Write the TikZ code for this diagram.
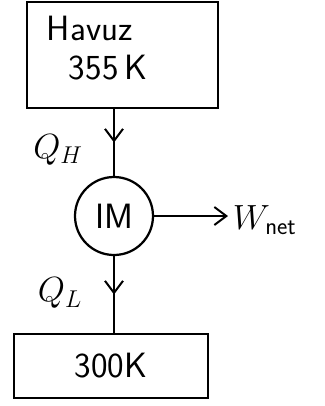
\documentclass[tikz,border=0pt]{standalone}
\usepackage{amsmath}
\usepackage{tikz}
\usetikzlibrary{arrows.meta,decorations.markings}

\tikzset{
  reservoir/.style={rectangle, draw, line width=1.6pt, minimum width=#1},
  engine/.style={circle, draw, line width=1.6pt, minimum size=1.95cm, inner sep=0pt},
  midarrow/.style={line width=1.4pt, decoration={markings, mark=at position 0.5 with {\arrow{Straight Barb[length=3mm,width=4.5mm,line width=1.4pt]}}}, postaction={decorate}},
  hand/.style={font=\sffamily\fontsize{25}{30}\selectfont}
}

\begin{document}
\begin{tikzpicture}
\useasboundingbox (0,0) rectangle (8.125,-10.15);

\node (hot) [reservoir=4.78cm, minimum height=2.65cm] at (3.06,-1.375) {};
\node (hotname) [hand, anchor=west] at (1.05,-0.7) {Havuz};
\node (hottemp) [hand, anchor=west] at (1.6,-1.68) {355\,K};

\node (im) [engine, hand] at (2.85,-5.4) {IM};

\node (cold) [reservoir=4.85cm, minimum height=1.6cm, hand] at (2.775,-9.15) {300K};

\node (qh) [hand] at (1.45,-3.75) {$Q_H$};
\node (ql) [hand] at (1.5,-7.33) {$Q_L$};
\node (wnet) [hand, anchor=west] at (5.7,-5.5) {$W_{\text{net}}$};

\draw[midarrow] (im.north |- hot.south) -- (im.north);
\draw[midarrow] (im.south) -- (im.south |- cold.north);
\draw[line width=1.4pt, -{Straight Barb[length=3mm,width=4.5mm,line width=1.4pt]}] (im.east) -- (im.east -| wnet.west);
\end{tikzpicture}
\end{document}
